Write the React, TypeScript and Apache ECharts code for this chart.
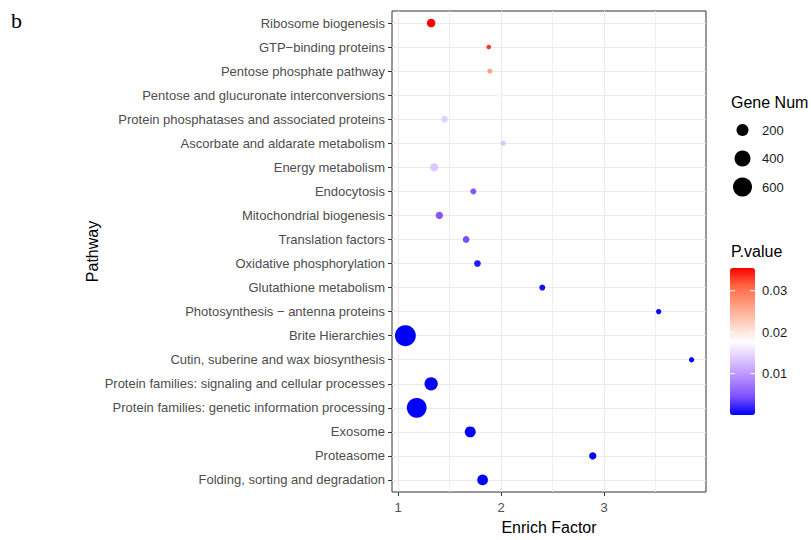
import React, { useEffect, useRef } from "react";
import * as echarts from "echarts";

const pathways = [
  "Ribosome biogenesis",
  "GTP\u2212binding proteins",
  "Pentose phosphate pathway",
  "Pentose and glucuronate interconversions",
  "Protein phosphatases and associated proteins",
  "Ascorbate and aldarate metabolism",
  "Energy metabolism",
  "Endocytosis",
  "Mitochondrial biogenesis",
  "Translation factors",
  "Oxidative phosphorylation",
  "Glutathione metabolism",
  "Photosynthesis \u2212 antenna proteins",
  "Brite Hierarchies",
  "Cutin, suberine and wax biosynthesis",
  "Protein families: signaling and cellular processes",
  "Protein families: genetic information processing",
  "Exosome",
  "Proteasome",
  "Folding, sorting and degradation",
];
const enrichFactor = [1.32, 1.88, 1.89, 1.98, 1.45, 2.02, 1.35, 1.73, 1.4, 1.66, 1.77, 2.4, 3.53, 1.07, 3.85, 1.32, 1.18, 1.7, 2.89, 1.82];
const geneNum = [80, 11, 14, 12, 40, 14, 68, 28, 52, 40, 40, 28, 18, 750, 18, 258, 660, 160, 52, 150];
const pValue = [0.0355, 0.033, 0.0266, 0.0185, 0.0142, 0.0131, 0.0135, 0.005, 0.0048, 0.0043, 0.0014, 0.0007, 0.0004, 0.00001, 0.0002, 0.00003, 0.00002, 0.0001, 0.0001, 0.0001];

const xMajorTicks = [1, 2, 3];
const xMinorTicks = [1.5, 2.5, 3.5];
const sizeLegendValues = [200, 400, 600];
const pTicks = [0.01, 0.02, 0.03];
const pTickLabels = ["0.01", "0.02", "0.03"];

const FONT = "Liberation Sans";
const sizeOf = (v: number) => 0.676 * Math.sqrt(v) + 2.44;

export default function App() {
  const ref = useRef<HTMLDivElement>(null);
  useEffect(() => {
    if (!ref.current) return;
    const chart = echarts.init(ref.current, undefined, { renderer: "svg" });
    const pMin = Math.min(...pValue);
    const pMax = Math.max(...pValue);
    const barLeft = 730;
    const barTop = 268;
    const barW = 25;
    const barH = 147;
    const pY = (p: number) => barTop + barH - ((p - pMin) / (pMax - pMin)) * barH;

    const data = pathways.map((_, i) => [enrichFactor[i], i, geneNum[i], pValue[i]]);

    const graphics: any[] = [
      {
        type: "text",
        left: 11,
        top: 9,
        style: { text: "b", font: "22px 'Liberation Serif'", fill: "#000" },
      },
      {
        type: "text",
        x: 731,
        y: 102,
        style: { text: "Gene Num", font: `16px '${FONT}'`, fill: "#000", verticalAlign: "middle" },
      },
      {
        type: "text",
        x: 731,
        y: 251,
        style: { text: "P.value", font: `16px '${FONT}'`, fill: "#000", verticalAlign: "middle" },
      },
    ];
    sizeLegendValues.forEach((v, k) => {
      const cy = 130 + k * 28.5;
      graphics.push({
        type: "circle",
        shape: { cx: 742.5, cy, r: sizeOf(v) / 2 },
        style: { fill: "#000" },
      });
      graphics.push({
        type: "text",
        x: 762,
        y: cy,
        style: { text: String(v), font: `13px '${FONT}'`, fill: "#1a1a1a", verticalAlign: "middle" },
      });
    });
    pTicks.forEach((p, k) => {
      const y = pY(p);
      graphics.push({
        type: "line",
        shape: { x1: barLeft, y1: y, x2: barLeft + 5, y2: y },
        style: { stroke: "#fff", lineWidth: 1 },
        z: 100,
      });
      graphics.push({
        type: "line",
        shape: { x1: barLeft + barW - 5, y1: y, x2: barLeft + barW, y2: y },
        style: { stroke: "#fff", lineWidth: 1 },
        z: 100,
      });
      graphics.push({
        type: "text",
        x: 762,
        y,
        style: { text: pTickLabels[k], font: `13px '${FONT}'`, fill: "#1a1a1a", verticalAlign: "middle" },
      });
    });

    chart.setOption({
      animation: false,
      backgroundColor: "#fff",
      grid: {
        left: 392,
        right: 105,
        top: 11,
        bottom: 47,
        show: true,
        borderColor: "#333",
        borderWidth: 1,
        backgroundColor: "#fff",
      },
      xAxis: {
        type: "value",
        min: 0.94,
        max: 3.99,
        name: "Enrich Factor",
        nameLocation: "middle",
        nameGap: 27,
        nameTextStyle: { fontFamily: FONT, fontSize: 16, color: "#000" },
        axisLine: { show: false },
        axisTick: { show: true, length: 4, lineStyle: { color: "#333" }, customValues: xMajorTicks },
        axisLabel: { fontFamily: FONT, fontSize: 13, color: "#4D4D4D", margin: 9, customValues: xMajorTicks },
        splitLine: { show: false },
      },
      yAxis: {
        type: "category",
        data: pathways,
        inverse: true,
        name: "Pathway",
        nameLocation: "middle",
        nameGap: 291,
        nameTextStyle: { fontFamily: FONT, fontSize: 16, color: "#000" },
        axisLine: { show: false },
        axisTick: { show: true, length: 4, alignWithLabel: true, lineStyle: { color: "#333" } },
        axisLabel: { fontFamily: FONT, fontSize: 13, color: "#4D4D4D", margin: 7, interval: 0 },
        splitLine: { show: false },
      },
      visualMap: {
        type: "continuous",
        min: pMin,
        max: pMax,
        dimension: 3,
        seriesIndex: 0,
        left: barLeft,
        top: barTop,
        itemWidth: barW,
        itemHeight: barH,
        padding: 0,
        calculable: false,
        hoverLink: false,
        inRange: {
          color: ["#0000FF", "#7E51FF", "#B38BFF", "#DCC5FF", "#FFFFFF", "#FFCFBF", "#FF9E81", "#FF6846", "#FF0000"],
        },
      },
      series: [
        {
          type: "scatter",
          data,
          z: 10,
          symbol: "circle",
          symbolSize: (val: number[]) => sizeOf(val[2]),
          itemStyle: { opacity: 1 },
        },
        {
          type: "scatter",
          data: [],
          z: 1,
          silent: true,
          markLine: {
            silent: true,
            z: 1,
            symbol: "none",
            label: { show: false },
            animation: false,
            data: [
              ...xMajorTicks.map((v) => ({ xAxis: v, lineStyle: { color: "#EBEBEB", width: 1.1, type: "solid" } })),
              ...xMinorTicks.map((v) => ({ xAxis: v, lineStyle: { color: "#EBEBEB", width: 0.8, type: "solid" } })),
              ...pathways.map((_, i) => ({ yAxis: i, lineStyle: { color: "#EBEBEB", width: 1.1, type: "solid" } })),
            ],
          },
        },
      ],
      graphic: graphics,
    });
    return () => chart.dispose();
  }, []);
  return (
    <div
      ref={ref}
      style={{ position: "absolute", left: 0, top: 0, width: 811, height: 540, background: "#fff" }}
    />
  );
}
